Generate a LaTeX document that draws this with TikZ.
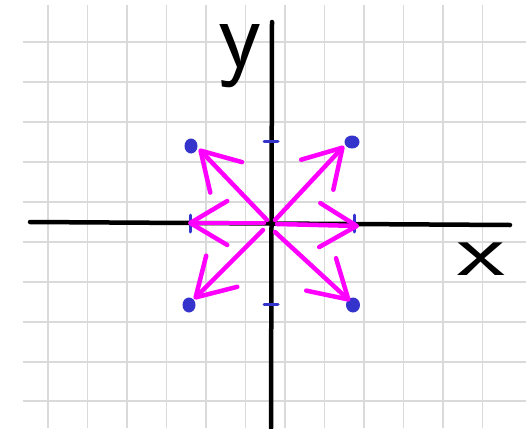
\documentclass[tikz,border=0pt]{standalone}
\usetikzlibrary{arrows.meta}
\definecolor{gridgray}{HTML}{DADADA}
\definecolor{vecmag}{HTML}{FF00FF}
\definecolor{dotblue}{HTML}{3434CC}
\tikzset{
  gridline/.style={draw=gridgray, line width=1.8pt},
  axisline/.style={draw=black, line width=4.5pt, line cap=round},
  vec/.style={draw=vecmag, line width=4.5pt, line cap=round,
    -{Straight Barb[length=37pt,width=44pt,round]}},
  tickmark/.style={draw=dotblue, line width=3pt, line cap=round},
  dotmark/.style={fill=dotblue},
  axlabel/.style={inner sep=0pt}
}
\begin{document}
\begin{tikzpicture}[x=1pt,y=-1pt]
\useasboundingbox (0,0) rectangle (526,428);
\fill[white] (0,0) rectangle (526,428);
% grid
\foreach \gx in {48,87.5,127,166.5,206,245.5,285,324.5,364,403.5,443,482.5}
  \draw[gridline] (\gx,5) -- (\gx,428);
\foreach \gy in {42,82,122,162,202,242,282,322,362,401}
  \draw[gridline] (23,\gy) -- (526,\gy);
% axes
\coordinate (xl) at (30,222);
\coordinate (xr) at (510,225);
\coordinate (yt) at (272,22);
\coordinate (yb) at (271,428);
\draw[axisline] (xl) -- (xr);
\draw[axisline] (yt) -- (yb);
% ticks
\coordinate (tx1a) at (190,215); \coordinate (tx1b) at (190,232);
\coordinate (tx2a) at (354,215); \coordinate (tx2b) at (354,232);
\coordinate (ty1a) at (264,141); \coordinate (ty1b) at (278,141);
\coordinate (ty2a) at (264,304); \coordinate (ty2b) at (278,304);
\draw[tickmark] (tx1a) -- (tx1b);
\draw[tickmark] (tx2a) -- (tx2b);
\draw[tickmark] (ty1a) -- (ty1b);
\draw[tickmark] (ty2a) -- (ty2b);
% dots
\coordinate (pNW) at (191,146);
\coordinate (pNE) at (352,142);
\coordinate (pSW) at (189,305);
\coordinate (pSE) at (353,305);
\fill[dotmark] (pNW) ellipse [x radius=6.5, y radius=7.5];
\fill[dotmark] (pNE) ellipse [x radius=7.5, y radius=6.5];
\fill[dotmark] (pSW) ellipse [x radius=6.5, y radius=7.5];
\fill[dotmark] (pSE) ellipse [x radius=7, y radius=7.5];
% vectors
\coordinate (sE) at (277,224);  \coordinate (tE) at (359,226);
\coordinate (sW) at (264,223);  \coordinate (tW) at (188,223);
\coordinate (sNE) at (275,220); \coordinate (tNE) at (344,146);
\coordinate (sNW) at (267,220); \coordinate (tNW) at (199,149);
\coordinate (sSW) at (263,230); \coordinate (tSW) at (194,299);
\coordinate (sSE) at (275,232); \coordinate (tSE) at (350,301);
\draw[vec] (sE) -- (tE);
\draw[vec] (sW) -- (tW);
\draw[vec] (sNE) -- (tNE);
\draw[vec] (sNW) -- (tNW);
\draw[vec] (sSW) -- (tSW);
\draw[vec] (sSE) -- (tSE);
% labels
\node[axlabel, anchor=north, font=\sffamily\fontsize{100}{100}\selectfont] (ylab) at (240,24) {y};
\node[axlabel, anchor=north, font=\sffamily\fontsize{76}{76}\selectfont] (xlab) at (481,243) {\scalebox{1.45}[1]{x}};
\end{tikzpicture}
\end{document}
